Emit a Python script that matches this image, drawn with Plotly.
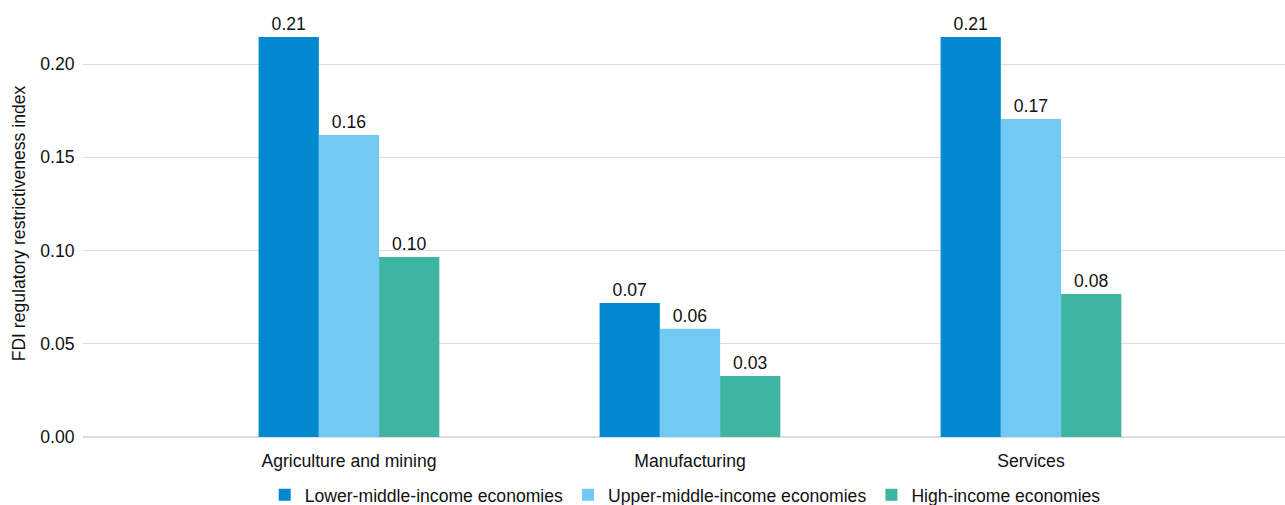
import plotly.graph_objects as go

categories = ["Agriculture and mining", "Manufacturing", "Services"]
series_names = ["Lower-middle-income economies", "Upper-middle-income economies", "High-income economies"]
lower_middle = [0.2145, 0.0718, 0.2145]
upper_middle = [0.162, 0.058, 0.1705]
high_income = [0.0965, 0.0327, 0.0767]
colors = ["#0088D1", "#72C9F3", "#3DB5A0"]

FONT = "Liberation Sans, Arial, sans-serif"
FS = 17.6
fig = go.Figure()
for name, vals, col in zip(series_names, [lower_middle, upper_middle, high_income], colors):
    fig.add_trace(go.Bar(
        x=categories, y=vals, name=name, marker_color=col, marker_line_width=0,
        text=[f"{v:.2f}" for v in vals], textposition="outside",
        textfont=dict(size=FS, color="#111111", family=FONT), cliponaxis=False,
    ))

fig.update_layout(
    width=1285, height=505,
    margin=dict(l=83, r=0, t=10, b=68, autoexpand=False),
    paper_bgcolor="white", plot_bgcolor="white",
    barmode="group", bargap=0.47, bargroupgap=0,
    font=dict(family=FONT, size=FS, color="#111111"),
    legend=dict(orientation="h", x=0.501, xanchor="center", yref="container", y=0.02, yanchor="middle",
                font=dict(size=FS), traceorder="normal", itemwidth=30, tracegroupgap=0),
    xaxis=dict(range=[-0.78, 2.745], showline=False, ticks="", tickfont=dict(size=FS),
               automargin=False, ticklabelstandoff=11),
    yaxis=dict(range=[0, 0.229], tickvals=[0, 0.05, 0.10, 0.15, 0.20], tickformat=".2f",
               gridcolor="#DDDDDD", zeroline=True, zerolinecolor="#DDDDDD",
               ticks="outside", ticklen=4, tickcolor="rgba(0,0,0,0)", automargin=False,
               title=dict(text="FDI regulatory restrictiveness index", font=dict(size=FS), standoff=10),
               tickfont=dict(size=FS)),
)
fig.write_html("out.html", config={"displayModeBar": False},
               post_script="document.body.style.margin='0';document.body.style.overflow='hidden';")
